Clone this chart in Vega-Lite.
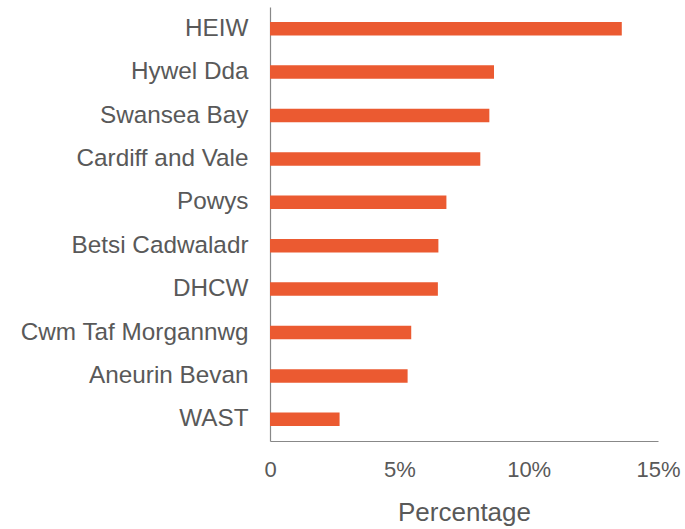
{
  "$schema": "https://vega.github.io/schema/vega-lite/v6.json",
  "autosize": "none",
  "width": 388,
  "height": 434,
  "padding": {"left": 270, "top": 7, "right": 27, "bottom": 88},
  "background": "white",
  "config": {"view": {"stroke": null}, "font": "Liberation Sans"},
  "data": {"values": [
    {"org": "HEIW", "pct": 13.6},
    {"org": "Hywel Dda", "pct": 8.66},
    {"org": "Swansea Bay", "pct": 8.48},
    {"org": "Cardiff and Vale", "pct": 8.13},
    {"org": "Powys", "pct": 6.82},
    {"org": "Betsi Cadwaladr", "pct": 6.51},
    {"org": "DHCW", "pct": 6.49},
    {"org": "Cwm Taf Morgannwg", "pct": 5.46},
    {"org": "Aneurin Bevan", "pct": 5.32},
    {"org": "WAST", "pct": 2.69}
  ]},
  "mark": {"type": "bar", "color": "#EB5A31"},
  "encoding": {
    "y": {
      "field": "org", "type": "nominal", "sort": null,
      "scale": {"paddingInner": 0.69, "paddingOuter": 0.345},
      "axis": {
        "title": null, "ticks": false, "tickSize": 0, "labelPadding": 22,
        "labelFontSize": 24.3, "labelColor": "#595959", "labelLimit": 400,
        "domainColor": "#888888", "domainWidth": 1.2, "grid": false
      }
    },
    "x": {
      "field": "pct", "type": "quantitative",
      "scale": {"domain": [0, 15], "nice": false},
      "axis": {
        "title": "Percentage", "values": [0, 5, 10, 15],
        "labelExpr": "datum.value == 0 ? '0' : datum.value + '%'",
        "ticks": false, "tickSize": 0, "labelPadding": 18,
        "labelFontSize": 22, "labelColor": "#595959", "labelFont": "Liberation Sans",
        "labelFlush": false,
        "titleFontSize": 26, "titleFontWeight": "normal", "titleColor": "#595959",
        "titlePadding": 19,
        "domainColor": "#888888", "domainWidth": 1.2, "grid": false
      }
    }
  }
}
